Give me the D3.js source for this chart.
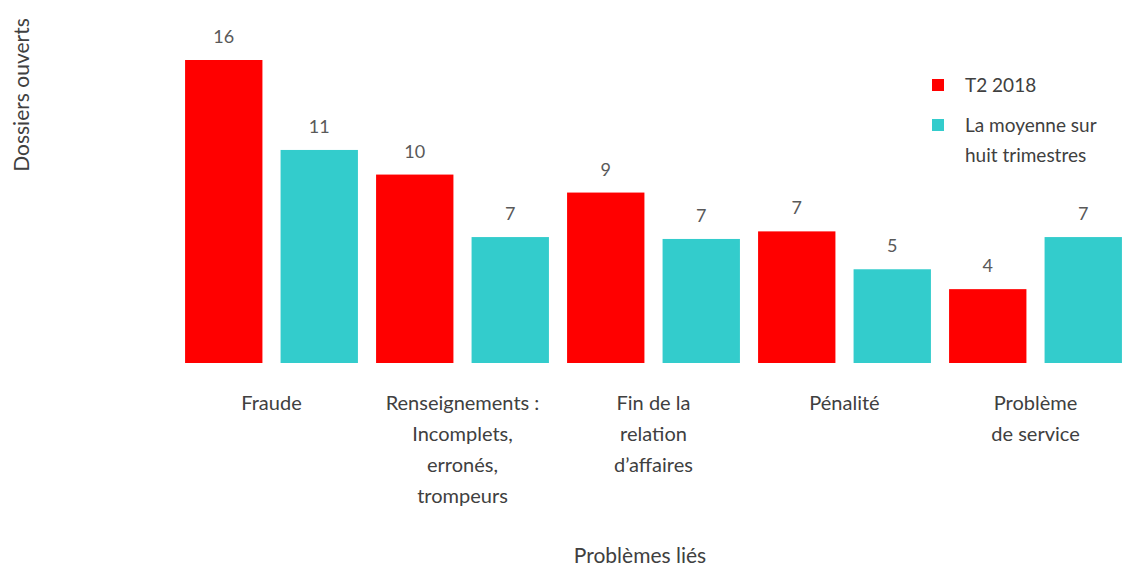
<!DOCTYPE html>
<html>
<head>
<meta charset="utf-8">
<script src="https://cdn.jsdelivr.net/npm/d3@7"></script>
<style>
  html, body { margin: 0; padding: 0; background: #fff; }
  svg { display: block; }
  text { font-family: Lato, "Open Sans", sans-serif; }
</style>
</head>
<body>
<svg id="chart" width="1125" height="570"></svg>
<script>
const categories = [
  ["Fraude"],
  ["Renseignements :", "Incomplets,", "erronés,", "trompeurs"],
  ["Fin de la", "relation", "d’affaires"],
  ["Pénalité"],
  ["Problème", "de service"]
];
const seriesNames = ["T2 2018", "La moyenne sur huit trimestres"];
const legendLines = [["T2 2018"], ["La moyenne sur", "huit trimestres"]];
const t2_2018 = [16, 9.95, 9, 6.95, 3.9];
const moyenne = [11.25, 6.65, 6.55, 4.95, 6.65];
const colors = ["#ff0000", "#33cccc"];

const svg = d3.select("#chart");
const catKeys = categories.map(c => c.join(" "));

const x0 = d3.scaleBand().domain(catKeys).range([176, 1131]).paddingInner(0).paddingOuter(0);
const x1 = d3.scaleBand().domain(seriesNames).range([0, x0.bandwidth()]).paddingInner(0.19).paddingOuter(0.095);
const y = d3.scaleLinear().domain([0, 16]).range([363, 60]);

const data = catKeys.map((k, i) => ({ key: k, values: [t2_2018[i], moyenne[i]] }));

const groups = svg.append("g").selectAll("g").data(data).join("g")
  .attr("transform", d => `translate(${x0(d.key)},0)`);

groups.selectAll("rect").data(d => d.values.map((v, j) => ({ v, s: seriesNames[j], j })))
  .join("rect")
  .attr("x", d => x1(d.s))
  .attr("y", d => y(d.v))
  .attr("width", x1.bandwidth())
  .attr("height", d => y(0) - y(d.v))
  .attr("fill", d => colors[d.j]);

groups.selectAll("text.val").data(d => d.values.map((v, j) => ({ v, s: seriesNames[j], j })))
  .join("text")
  .attr("class", "val")
  .attr("x", d => x1(d.s) + x1.bandwidth() / 2)
  .attr("y", d => y(d.v) - 17)
  .attr("text-anchor", "middle")
  .attr("font-size", 18)
  .attr("fill", "#595959")
  .text(d => Math.round(d.v));

// category axis labels
const xAxis = svg.append("g");
data.forEach((d, i) => {
  const t = xAxis.append("text")
    .attr("x", x0(d.key) + x0.bandwidth() / 2)
    .attr("y", 410)
    .attr("text-anchor", "middle")
    .attr("font-size", 20)
    .attr("fill", "#404040");
  categories[i].forEach((line, li) => {
    t.append("tspan").attr("x", x0(d.key) + x0.bandwidth() / 2).attr("dy", li === 0 ? 0 : 31).text(line);
  });
});

// axis titles
svg.append("text")
  .attr("x", 640).attr("y", 563)
  .attr("text-anchor", "middle")
  .attr("font-size", 21)
  .attr("fill", "#404040")
  .text("Problèmes liés");

svg.append("text")
  .attr("transform", "translate(29,95) rotate(-90)")
  .attr("text-anchor", "middle")
  .attr("font-size", 21)
  .attr("fill", "#404040")
  .text("Dossiers ouverts");

// legend
const legend = svg.append("g");
legendLines.forEach((lines, i) => {
  const top = [79, 119][i];
  legend.append("rect").attr("x", 932).attr("y", top).attr("width", 12).attr("height", 12).attr("fill", colors[i]);
  const t = legend.append("text").attr("x", 965).attr("y", top + 13).attr("font-size", 19).attr("fill", "#404040");
  lines.forEach((line, li) => {
    t.append("tspan").attr("x", 965).attr("dy", li === 0 ? 0 : 30).text(line);
  });
});
</script>
</body>
</html>
